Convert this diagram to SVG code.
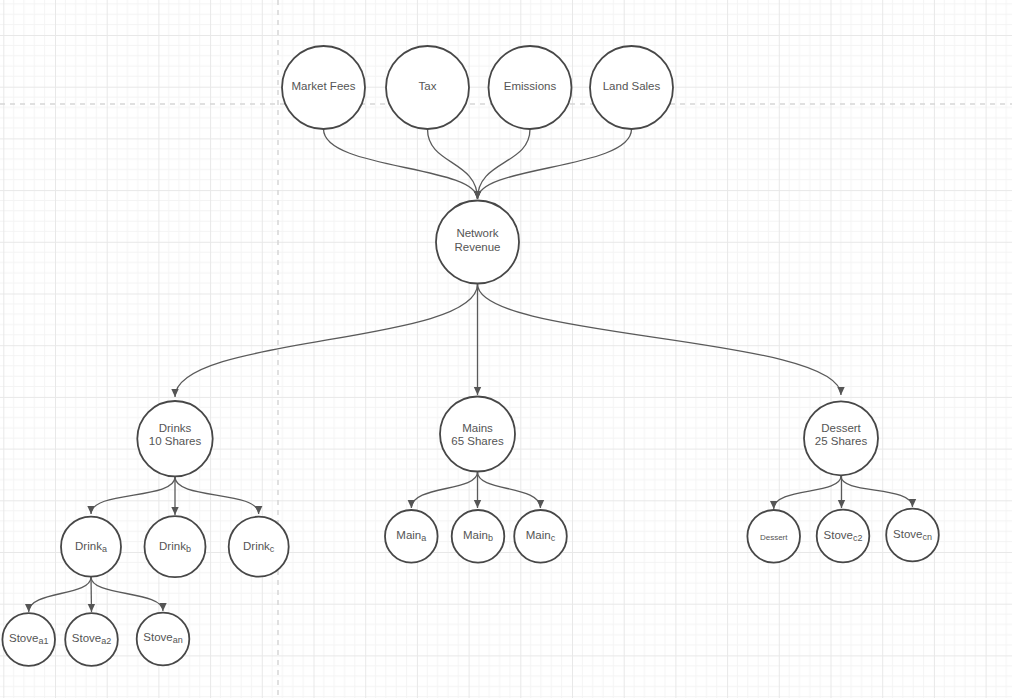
<svg xmlns="http://www.w3.org/2000/svg" width="1012" height="698" viewBox="0 0 1012 698">
<defs>
<pattern id="grid" x="3.3" y="35" width="51.7" height="51.7" patternUnits="userSpaceOnUse">
<path d="M10.34,0V51.7M20.68,0V51.7M31.02,0V51.7M41.36,0V51.7M0,10.34H51.7M0,20.68H51.7M0,31.02H51.7M0,41.36H51.7" stroke="#f4f4f4" stroke-width="1" fill="none"/>
<path d="M0.5,0V51.7M0,0.5H51.7" stroke="#e8e8e8" stroke-width="1" fill="none"/>
</pattern>
<marker id="arr" markerUnits="userSpaceOnUse" markerWidth="10" markerHeight="10" refX="8" refY="4" orient="auto">
<path d="M0,0.3 L8,4 L0,7.7 Z" fill="#555"/>
</marker>
<style>
.n{fill:#fff;stroke:#474747;stroke-width:1.8}
.t{font-family:"Liberation Sans",Arial,sans-serif;font-size:11.5px;fill:#555;text-anchor:middle}
.s{font-size:9px}
.c{fill:none;stroke:#5a5a5a;stroke-width:1.3;marker-end:url(#arr)}
.d{stroke:#d6d6d6;stroke-width:1.5;stroke-dasharray:5 5}
</style>
</defs>
<rect width="1012" height="698" fill="#fff"/>
<rect width="1012" height="698" fill="url(#grid)"/>
<line class="d" x1="278" y1="0" x2="278" y2="698"/>
<line class="d" x1="0" y1="104" x2="1012" y2="104"/>
<g id="connectors">
<path class="c" d="M323.5,129 C323.5,170 477.5,165 477.5,199"/>
<path class="c" d="M427.5,129 C427.5,165 477.5,160 477.5,199"/>
<path class="c" d="M530,129 C530,165 477.5,160 477.5,199"/>
<path class="c" d="M631.5,129 C631.5,170 477.5,165 477.5,199"/>
<path class="c" d="M477.5,284 C477.5,345 175,335 175,397"/>
<path class="c" d="M477.5,284 L477.5,395"/>
<path class="c" d="M477.5,284 C477.5,340 841,335 841,395"/>
<path class="c" d="M175,477 C175,500 91,490 91,514"/>
<path class="c" d="M175,477 L175,515"/>
<path class="c" d="M175,477 C175,500 258.7,490 258.7,514"/>
<path class="c" d="M91,577 C91,597 28.7,590 28.7,612"/>
<path class="c" d="M91,577 L91.5,612"/>
<path class="c" d="M91,577 C91,597 163,590 163,611"/>
<path class="c" d="M477.5,472 C477.5,492 411.3,485 411.3,508"/>
<path class="c" d="M477.5,472 L477.5,508"/>
<path class="c" d="M477.5,472 C477.5,492 540.5,485 540.5,508"/>
<path class="c" d="M841,476 C841,495 773.7,487 773.7,509"/>
<path class="c" d="M841.5,476 L841.5,508"/>
<path class="c" d="M841,476 C841,495 912.5,485 912.5,507"/>
</g>
<g id="market-fees"><circle class="n" cx="323.5" cy="87.5" r="41.5"/><text class="t" x="323.5" y="90">Market Fees</text></g>
<g id="tax"><circle class="n" cx="427.5" cy="87.5" r="41.5"/><text class="t" x="427.5" y="90">Tax</text></g>
<g id="emissions"><circle class="n" cx="530" cy="87.5" r="41.5"/><text class="t" x="530" y="90">Emissions</text></g>
<g id="land-sales"><circle class="n" cx="631.5" cy="87.5" r="41.5"/><text class="t" x="631.5" y="90">Land Sales</text></g>
<g id="network-revenue"><circle class="n" cx="477.5" cy="242" r="41.5"/><text class="t" x="477.5" y="237">Network</text><text class="t" x="477.5" y="251">Revenue</text></g>
<g id="drinks"><circle class="n" cx="175" cy="438.7" r="37.7"/><text class="t" x="175" y="432">Drinks</text><text class="t" x="175" y="445">10 Shares</text></g>
<g id="mains"><circle class="n" cx="477.5" cy="434" r="37.5"/><text class="t" x="477.5" y="431.5">Mains</text><text class="t" x="477.5" y="445">65 Shares</text></g>
<g id="dessert"><circle class="n" cx="841" cy="438.3" r="37"/><text class="t" x="841" y="431.5">Dessert</text><text class="t" x="841" y="445">25 Shares</text></g>
<g id="drink-a"><circle class="n" cx="91" cy="546.7" r="30"/><text class="t" x="91" y="549.5">Drink<tspan class="s" dy="2">a</tspan></text></g>
<g id="drink-b"><circle class="n" cx="175" cy="546.7" r="30.5"/><text class="t" x="175" y="549.5">Drink<tspan class="s" dy="2">b</tspan></text></g>
<g id="drink-c"><circle class="n" cx="258.7" cy="546.7" r="30"/><text class="t" x="258.7" y="549.5">Drink<tspan class="s" dy="2">c</tspan></text></g>
<g id="stove-a1"><circle class="n" cx="28.7" cy="639.5" r="26.3"/><text class="t" x="28.7" y="641.5">Stove<tspan class="s" dy="2">a1</tspan></text></g>
<g id="stove-a2"><circle class="n" cx="91.5" cy="639.5" r="26.3"/><text class="t" x="91.5" y="641.5">Stove<tspan class="s" dy="2">a2</tspan></text></g>
<g id="stove-an"><circle class="n" cx="163" cy="639" r="26.3"/><text class="t" x="163" y="641">Stove<tspan class="s" dy="2">an</tspan></text></g>
<g id="main-a"><circle class="n" cx="411.3" cy="536.3" r="26.3"/><text class="t" x="411.3" y="539">Main<tspan class="s" dy="2">a</tspan></text></g>
<g id="main-b"><circle class="n" cx="478" cy="536.3" r="26.3"/><text class="t" x="478" y="539">Main<tspan class="s" dy="2">b</tspan></text></g>
<g id="main-c"><circle class="n" cx="540.5" cy="536.3" r="26.3"/><text class="t" x="540.5" y="539">Main<tspan class="s" dy="2">c</tspan></text></g>
<g id="dessert-child"><circle class="n" cx="773.7" cy="536.3" r="26.3"/><text class="t" x="773.7" y="539.5" style="font-size:8px">Dessert</text></g>
<g id="stove-c2"><circle class="n" cx="843" cy="536" r="26.3"/><text class="t" x="843" y="538.5">Stove<tspan class="s" dy="2">c2</tspan></text></g>
<g id="stove-cn"><circle class="n" cx="912.5" cy="535" r="26.3"/><text class="t" x="912.5" y="537.5">Stove<tspan class="s" dy="2">cn</tspan></text></g>
</svg>
